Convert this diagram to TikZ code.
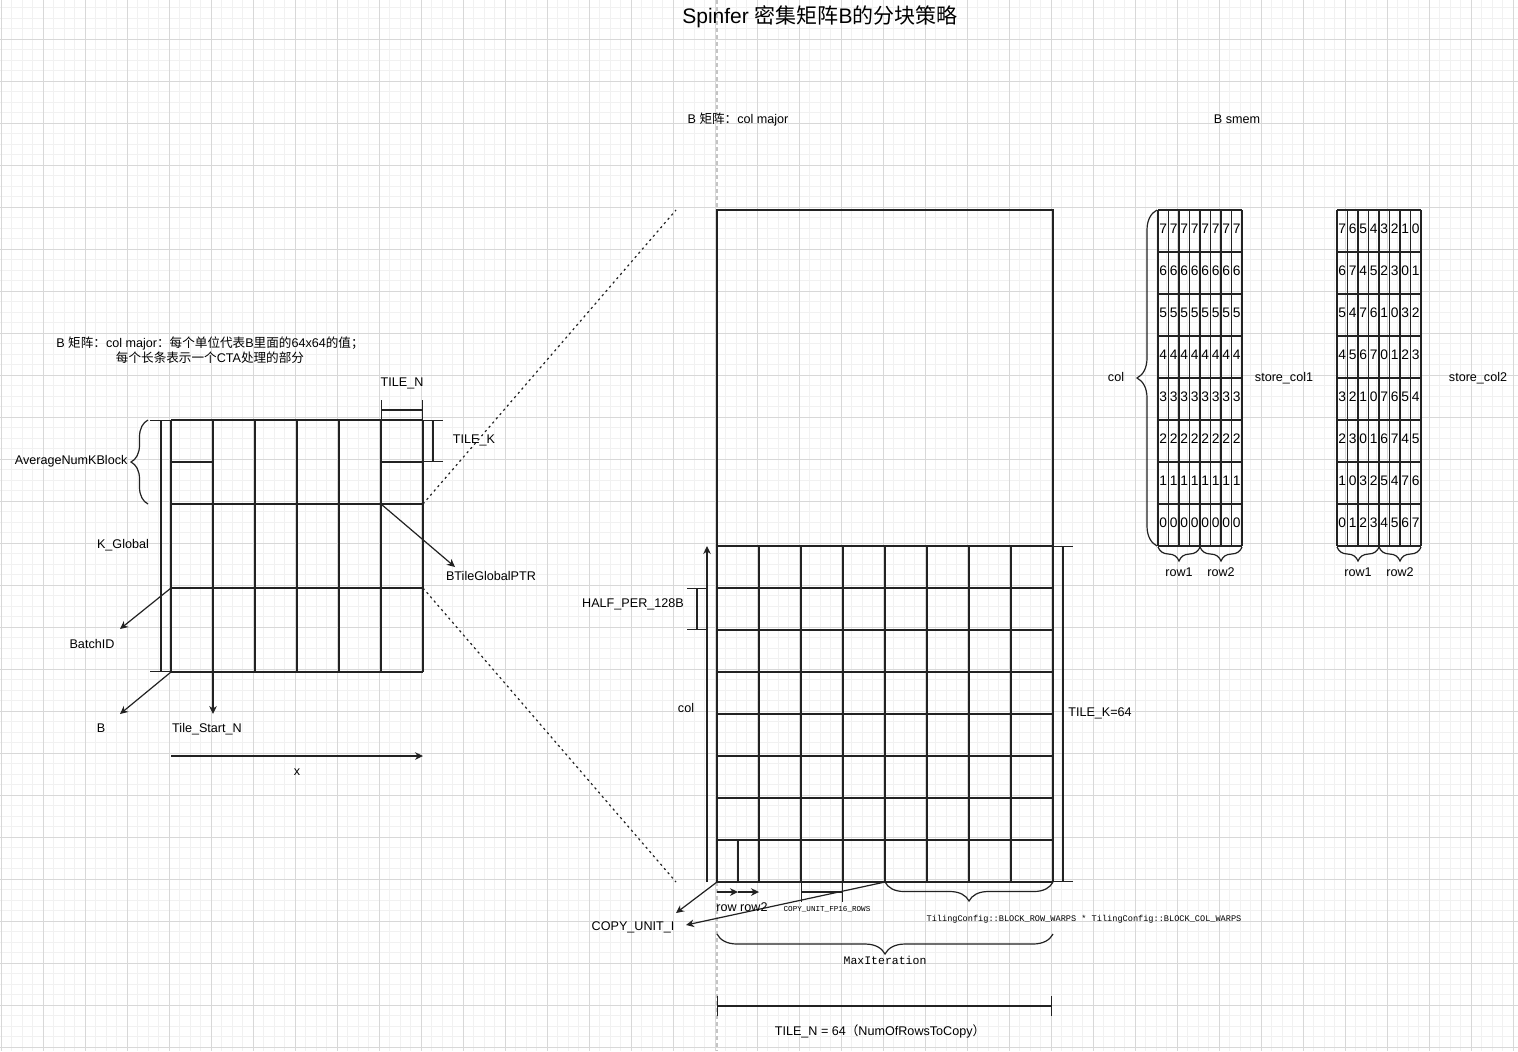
\documentclass[tikz,border=0pt]{standalone}
\usepackage{fontspec}
\setmainfont{Liberation Sans}
\setmonofont{Liberation Mono}
\newfontfamily\zhfont{Noto Sans CJK SC}
\newcommand{\zh}[1]{{\zhfont #1}}
\usetikzlibrary{arrows.meta, positioning, calc, decorations.pathreplacing}
\definecolor{cline}{HTML}{222222}
\definecolor{cmajor}{HTML}{D8D8D8}
\definecolor{cminor}{HTML}{F1F1F1}
\definecolor{cpage}{HTML}{C4C4C4}
\tikzset{
  every picture/.style={line width=0.6pt},
  lbl/.style={font=\fontsize{6.3}{7.5}\selectfont, inner sep=0pt, text height=4.5pt, text depth=0pt},
  code/.style={font=\ttfamily\fontsize{#1}{#1}\selectfont, inner sep=0pt, text height=0.66*#1, text depth=0pt},
  digit/.style={font=\fontsize{6.9}{6.9}\selectfont, inner sep=0pt},
  cell/.style={draw=cline},
  arrow/.style={-{Stealth[length=4pt, width=3.8pt]}, draw=cline},
  dimline/.style={{Bar[width=#1]}-{Bar[width=#1]}, draw=cline},
  dimline/.default=10pt,
  dotlink/.style={draw=cline, dash pattern=on 1.1pt off 1.7pt},
  curly/.style={draw=cline, decorate, decoration={brace, amplitude=#1}},
  curly/.default=7pt,
  gridmajor/.style={draw=cmajor, line width=0.5pt},
  gridminor/.style={draw=cminor, line width=0.5pt},
}

\begin{document}
\begin{tikzpicture}[x=0.5pt, y=-0.5pt]
  \useasboundingbox (0,0) rectangle (1518,1051);
  \fill[white] (0,0) rectangle (1518,1051);
  \foreach \k in {0,...,144} \draw[gridminor] (1.3+10.5*\k,0) -- (1.3+10.5*\k,1051);
  \foreach \k in {0,...,99} \draw[gridminor] (0,7.8+10.5*\k) -- (1518,7.8+10.5*\k);
  \foreach \k in {0,...,36} \draw[gridmajor] (1.3+42*\k,0) -- (1.3+42*\k,1051);
  \foreach \k in {0,...,24} \draw[gridmajor] (0,39.3+42*\k) -- (1518,39.3+42*\k);
  \draw[cpage, line width=0.8pt, dash pattern=on 2pt off 1.5pt] (717,0) -- (717,1051);

  \node[lbl, font=\fontsize{10.5}{12}\selectfont, text height=7.6pt] (title) at (820,16) {Spinfer \zh{密集矩阵}B\zh{的分块策略}};

  % B matrix, global view
  \node[lbl, align=center, text height=, text depth=] (hdrL) at (210,350.5)
    {B \zh{矩阵：}col major\zh{：每个单位代表}B\zh{里面的}64x64\zh{的值；}\\\zh{每个长条表示一个}CTA\zh{处理的部分}};
  \foreach \c in {0,...,6} \draw[cell] (171+42*\c,420) -- (171+42*\c,672);
  \foreach \r in {0,2,4,6} \draw[cell] (171,420+42*\r) -- (423,420+42*\r);
  \draw[cell] (171,462) -- (213,462) (381,462) -- (423,462);
  \coordinate (gTL) at (171,420);
  \coordinate (gBatch) at (171,588);
  \coordinate (gBL) at (171,672);
  \coordinate (gStartN) at (213,672);
  \coordinate (gPtr) at (381,504);
  \coordinate (gMidR) at (423,504);
  \coordinate (gLowR) at (423,588);

  \draw[dimline] (381,410) coordinate (tnA) -- (423,410) coordinate (tnB);
  \draw[dimline] (433,420) coordinate (tkA) -- (433,462) coordinate (tkB);
  \draw[dimline=11pt] (161,420) coordinate (kgA) -- (161,672) coordinate (kgB);
  \draw[curly=8.5pt] (148,504) coordinate (avA) -- (148,420) coordinate (avB);

  \node[lbl] (lTileN) at (402,382) {TILE\_N};
  \node[lbl] (lTileK) at (474,439) {TILE\_K};
  \node[lbl, anchor=east] (lAvg) at (128,460) {AverageNumKBlock};
  \node[lbl] (lKGlobal) at (123,544) {K\_Global};
  \node[lbl] (lPtr) at (491,576) {BTileGlobalPTR};
  \node[lbl] (lBatch) at (92,644) {BatchID};
  \node[lbl] (lB) at (101,728) {B};
  \node[lbl] (lStartN) at (207,728) {Tile\_Start\_N};
  \node[lbl] (lX) at (297,771) {x};

  \coordinate (ePtr) at (455,567);
  \coordinate (eBatch) at (120,629);
  \coordinate (eB) at (120,714);
  \coordinate (eStartN) at (213,714);
  \coordinate (xA) at (171,756);
  \coordinate (xB) at (423,756);
  \draw[arrow] (gPtr) -- (ePtr);
  \draw[arrow] (gBatch) -- (eBatch);
  \draw[arrow] (gBL) -- (eB);
  \draw[arrow] (gStartN) -- (eStartN);
  \draw[arrow] (xA) -- (xB);

  % one tile, zoomed
  \coordinate (zTop) at (676,210);
  \coordinate (zBot) at (676,882);
  \draw[dotlink] (gMidR) -- (zTop);
  \draw[dotlink] (gLowR) -- (zBot);

  \node[lbl] (hdrM) at (738,119) {B \zh{矩阵：}col major};
  \draw[cell] (717,210) rectangle (1053,546);
  \foreach \c in {0,...,8} \draw[cell] (717+42*\c,546) -- (717+42*\c,882);
  \foreach \r in {0,...,8} \draw[cell] (717,546+42*\r) -- (1053,546+42*\r);
  \draw[cell] (738,840) -- (738,882);
  \coordinate (tBL) at (717,882);
  \coordinate (tSplit) at (738,892);
  \coordinate (tMid) at (885,882);

  \draw[arrow] (707,882) coordinate (cA) -- (707,546) coordinate (cB);
  \draw[dimline] (697,588) coordinate (hA) -- (697,630) coordinate (hB);
  \draw[dimline] (1063,546) coordinate (k64A) -- (1063,882) coordinate (k64B);
  \draw[arrow] (717,892) coordinate (rA) -- (tSplit);
  \draw[arrow] (tSplit) -- (759,892) coordinate (rB);
  \draw[dimline] (801,892) coordinate (fpA) -- (843,892) coordinate (fpB);
  \coordinate (eCopy1) at (676,913);
  \coordinate (eCopy2) at (686,925);
  \draw[arrow] (tBL) -- (eCopy1);
  \draw[arrow] (tMid) -- (eCopy2);
  \draw[curly=9.5pt] (1053,882) coordinate (wA) -- (tMid);
  \draw[curly=10pt] (1053,934) coordinate (mA) -- (717,934) coordinate (mB);
  \draw[dimline] (717,1006) coordinate (nA) -- (1052,1006) coordinate (nB);

  \node[lbl] (lHalf) at (633,603) {HALF\_PER\_128B};
  \node[lbl] (lCol) at (686,708) {col};
  \node[lbl] (lTileK64) at (1100,712) {TILE\_K=64};
  \node[lbl] (lRows) at (742,907) {row row2};
  \node[code=3.8pt] (lCopyRows) at (827,909) {COPY\_UNIT\_FP16\_ROWS};
  \node[lbl] (lCopyI) at (633,926) {COPY\_UNIT\_I};
  \node[code=4.3pt] (lWarps) at (1084,919) {TilingConfig::BLOCK\_ROW\_WARPS * TilingConfig::BLOCK\_COL\_WARPS};
  \node[code=5.75pt] (lMaxIter) at (885,961) {MaxIteration};
  \node[lbl] (lTileN64) at (880,1031) {TILE\_N = 64\zh{（}NumOfRowsToCopy\zh{）}};

  % shared memory layouts
  \node[lbl] (hdrS) at (1237,119) {B smem};
  \foreach \c in {0,...,8} \draw[cell] (1158+10.5*\c,210) -- (1158+10.5*\c,546);
  \foreach \r in {0,...,8} \draw[cell] (1158,210+42*\r) -- (1242,210+42*\r);
  \foreach \r [evaluate=\r as \v using int(7-\r)] in {0,...,7}
    \foreach \c in {0,...,7}
      \node[digit] (sa-\r-\c) at (1163.25+10.5*\c,229+42*\r) {\v};

  \foreach \c in {0,...,8} \draw[cell] (1337+10.5*\c,210) -- (1337+10.5*\c,546);
  \foreach \r in {0,...,8} \draw[cell] (1337,210+42*\r) -- (1421,210+42*\r);
  \foreach \vals [count=\r from 0] in {{7,6,5,4,3,2,1,0},{6,7,4,5,2,3,0,1},{5,4,7,6,1,0,3,2},{4,5,6,7,0,1,2,3},
      {3,2,1,0,7,6,5,4},{2,3,0,1,6,7,4,5},{1,0,3,2,5,4,7,6},{0,1,2,3,4,5,6,7}}
    \foreach \v [count=\c from 0] in \vals
      \node[digit] (sb-\r-\c) at (1342.25+10.5*\c,229+42*\r) {\v};

  \draw[curly=10pt] (1157,546) coordinate (scA) -- (1157,210) coordinate (scB);
  \draw[curly=7pt] (1200,547) coordinate (r1A) -- (1158,547) coordinate (r1B);
  \draw[curly=7pt] (1242,547) coordinate (r2A) -- (1200,547);
  \draw[curly=7pt] (1379,547) coordinate (r3A) -- (1337,547) coordinate (r3B);
  \draw[curly=7pt] (1421,547) coordinate (r4A) -- (1379,547);

  \node[lbl] (lSmemCol) at (1116,377) {col};
  \node[lbl] (lStore1) at (1284,377) {store\_col1};
  \node[lbl] (lStore2) at (1478,377) {store\_col2};
  \node[lbl] (lRow1a) at (1179,572) {row1};
  \node[lbl] (lRow2a) at (1221,572) {row2};
  \node[lbl] (lRow1b) at (1358,572) {row1};
  \node[lbl] (lRow2b) at (1400,572) {row2};
\end{tikzpicture}
\end{document}
